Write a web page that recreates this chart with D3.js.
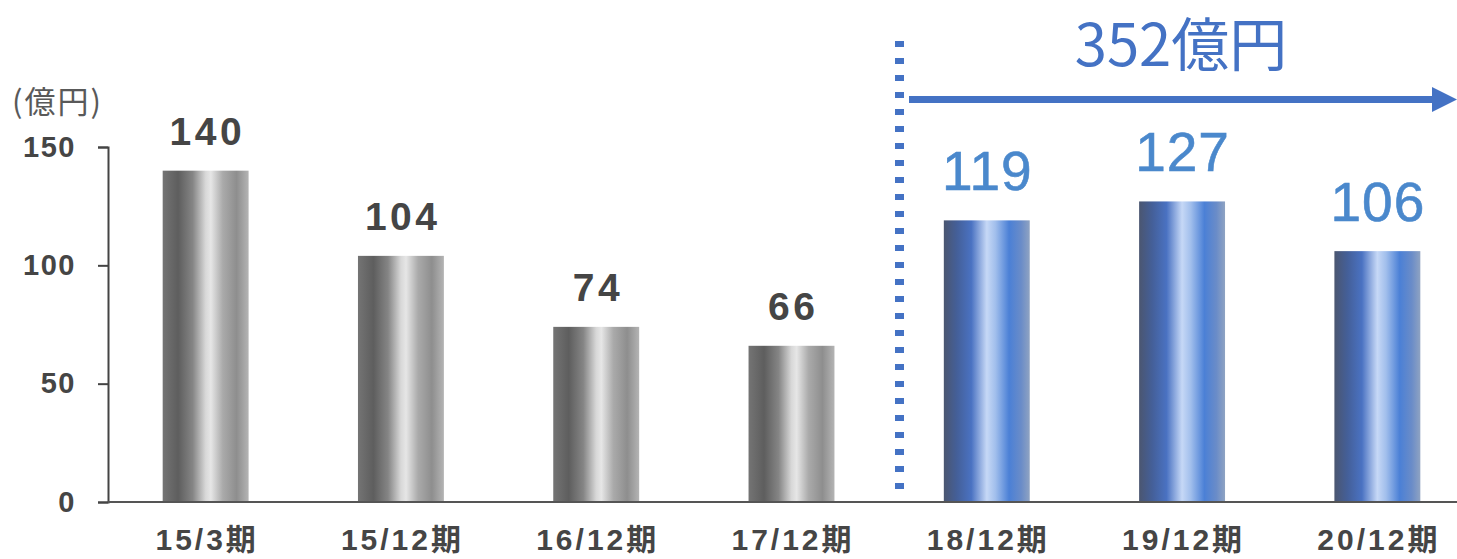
<!DOCTYPE html>
<html><head><meta charset="utf-8">
<script src="https://cdn.jsdelivr.net/npm/d3@7"></script>
<style>html,body{margin:0;padding:0;background:#fff;}svg{display:block;}</style>
</head><body>
<script>
const categories = ["15/3期","15/12期","16/12期","17/12期","18/12期","19/12期","20/12期"];
const values = [140,104,74,66,119,127,106];
const isForecast = [false,false,false,false,true,true,true];
const yTicks = [0,50,100,150];
const unitLabel = "(億円)";
const totalLabel = "352億円";

const W = 1457, H = 559;
const svg = d3.select("body").append("svg").attr("width", W).attr("height", H);
const defs = svg.append("defs");

const grayStops = [[0,"#747474"],[0.18,"#5e5e5e"],[0.35,"#858585"],[0.5,"#d8d8d8"],[0.56,"#e6e6e6"],[0.7,"#aaaaaa"],[0.86,"#8e8e8e"],[1,"#b4b4b4"]];
const blueStops = [[0,"#4b5670"],[0.15,"#445f98"],[0.32,"#4a72c2"],[0.5,"#c6d8f6"],[0.6,"#a2bfec"],[0.76,"#4b80d6"],[0.9,"#6a8cc8"],[1,"#8fa3c2"]];
function grad(id, stops){
  const g = defs.append("linearGradient").attr("id", id).attr("x1","0").attr("x2","1").attr("y1","0").attr("y2","0");
  stops.forEach(s => g.append("stop").attr("offset", s[0]).attr("stop-color", s[1]));
}
grad("gGray", grayStops);
grad("gBlue", blueStops);

const x = d3.scaleBand().domain(categories).range([108, 1475]).paddingInner(0.56).paddingOuter(0.28);
const y = d3.scaleLinear().domain([0,150]).range([502,147]);

// bars
svg.selectAll("rect.bar").data(categories).enter().append("rect")
  .attr("x", d => x(d)).attr("width", x.bandwidth())
  .attr("y", (d,i) => y(values[i])).attr("height", (d,i) => y(0) - y(values[i]))
  .attr("fill", (d,i) => isForecast[i] ? "url(#gBlue)" : "url(#gGray)");

// value labels
svg.selectAll("text.val").data(categories).enter().append("text")
  .attr("x", d => x(d) + x.bandwidth()/2)
  .attr("y", (d,i) => y(values[i]) - (isForecast[i] ? 30 : 26))
  .attr("text-anchor","middle")
  .attr("font-family","'Liberation Sans', Arial, sans-serif")
  .attr("font-weight", (d,i) => isForecast[i] ? "normal" : "bold")
  .attr("font-size", (d,i) => isForecast[i] ? 55 : 39)
  .attr("letter-spacing", (d,i) => isForecast[i] ? 1 : 3.5)
  .attr("dx", (d,i) => isForecast[i] ? 0.5 : 1.75)
  .attr("stroke", (d,i) => isForecast[i] ? "#4a88cc" : "none")
  .attr("stroke-width", 0.6)
  .attr("fill", (d,i) => isForecast[i] ? "#4a88cc" : "#454545")
  .text((d,i) => values[i]);

// y axis
const yAxis = d3.axisLeft(y).tickValues(yTicks).tickSize(10).tickPadding(22).tickFormat(d3.format("d"));
const ya = svg.append("g").attr("transform","translate(108,0)").call(yAxis);
ya.select(".domain").attr("stroke","#444").attr("stroke-width",2);
ya.selectAll(".tick line").attr("stroke","#444").attr("stroke-width",2);
ya.selectAll(".tick text").attr("font-family","'Liberation Sans', Arial, sans-serif")
  .attr("font-weight","bold").attr("font-size",29).attr("letter-spacing",1.5).attr("fill","#454545");

// x axis
const xAxis = d3.axisBottom(x).tickSize(0).tickPadding(27);
const xa = svg.append("g").attr("transform","translate(0,502)").call(xAxis);
xa.select(".domain").attr("stroke","#555").attr("stroke-width",2).attr("d","M108,0H1457");
xa.selectAll(".tick text").attr("font-family","'Liberation Sans','Noto Sans CJK JP', Arial, sans-serif")
  .attr("font-weight","bold").attr("font-size",30).attr("letter-spacing",3).attr("dx",1.5)
  .attr("fill","#454545").attr("dy","0.71em");

// unit label
svg.append("text").attr("x", 12).attr("y", 113)
  .attr("font-family","'Noto Sans CJK JP', sans-serif").attr("font-size", 31).attr("letter-spacing",2).attr("fill","#595959")
  .text(unitLabel);

// dotted divider
svg.append("line").attr("x1",899.5).attr("x2",899.5).attr("y1",41).attr("y2",498)
  .attr("stroke","#4472c4").attr("stroke-width",9).attr("stroke-dasharray","6,11");

// arrow
svg.append("line").attr("x1",909).attr("x2",1434).attr("y1",99.5).attr("y2",99.5)
  .attr("stroke","#4472c4").attr("stroke-width",7);
svg.append("path").attr("d","M1432,87L1457,99.5L1432,112Z").attr("fill","#4472c4");

// total label
svg.append("text").attr("x", 1181).attr("y", 66).attr("text-anchor","middle")
  .attr("font-family","'Noto Sans CJK JP', sans-serif").attr("font-size", 58).attr("fill","#4472c4")
  .text(totalLabel);
</script>
</body></html>
